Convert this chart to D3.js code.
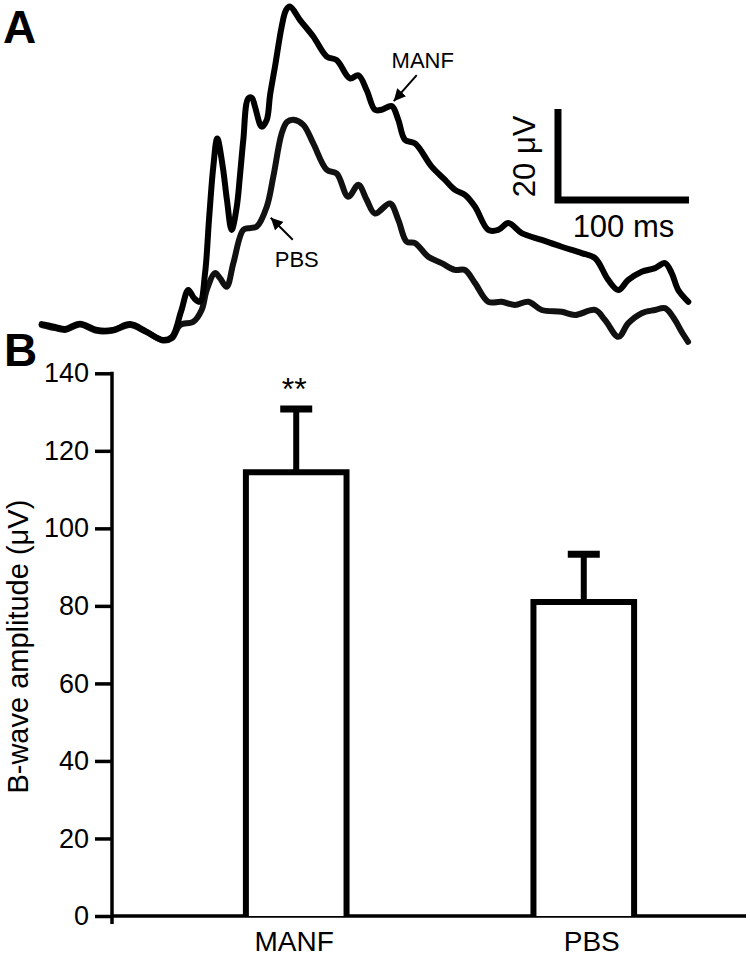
<!DOCTYPE html>
<html>
<head>
<meta charset="utf-8">
<script src="https://cdn.jsdelivr.net/npm/d3@7"></script>
<style>
  html, body { margin: 0; padding: 0; background: #fff; }
  svg { display: block; font-family: "Liberation Sans", Arial, Helvetica, sans-serif; }
</style>
</head>
<body>
<script>
// ---------- Panel A: ERG traces (time in ms, amplitude in µV) ----------
const manfTime = [1.3, 11.5, 19.1, 30.5, 43.5, 55.7, 68.7, 80.9, 93.9, 100.8, 107.6, 113.2, 117.6, 122.1, 126.0, 129.0, 132.3, 135.3, 139.5, 142.7, 146.3, 150.2, 152.7, 155.2, 159.0, 161.8, 164.1, 169.2, 173.1, 175.6, 179.4, 184.5, 187.8, 190.8, 198.5, 208.6, 218.9, 226.5, 236.6, 243.0, 249.4, 255.7, 260.8, 268.5, 273.5, 278.6, 286.3, 299.0, 309.2, 316.8, 324.4, 332.1, 342.2, 349.8, 357.5, 367.7, 383.0, 398.2, 413.5, 423.7, 433.8, 441.5, 449.1, 459.3, 469.5, 477.1, 482.2, 487.2, 494.9];
const manfAmp = [0.2, -0.4, -0.9, 0.3, -1.1, -1.1, 0.2, -1.4, -3.3, -2.6, 2.9, 7.7, 5.9, 5.1, 11.4, 23.1, 34.8, 41.0, 34.8, 27.5, 20.9, 26.0, 33.0, 40.7, 49.8, 49.9, 48.0, 43.6, 45.1, 50.5, 56.8, 65.6, 69.2, 70.0, 67.0, 63.4, 59.0, 58.2, 54.2, 54.9, 51.6, 47.3, 47.3, 48.1, 45.1, 40.7, 39.9, 34.8, 31.9, 29.7, 28.6, 26.0, 20.9, 20.9, 22.4, 20.2, 18.7, 17.2, 15.8, 14.7, 9.9, 7.7, 9.9, 11.7, 12.5, 13.6, 11.4, 7.7, 5.1];
const pbsTime = [1.3, 11.5, 19.1, 30.5, 43.5, 55.7, 68.7, 80.9, 93.9, 100.8, 106.9, 117.0, 123.4, 127.3, 133.6, 137.4, 142.5, 147.6, 155.2, 160.3, 165.4, 173.1, 178.1, 184.5, 188.5, 193.4, 201.0, 208.6, 218.9, 226.5, 235.3, 243.0, 249.4, 255.7, 267.2, 273.5, 279.9, 286.3, 296.4, 306.6, 316.8, 324.4, 332.1, 342.2, 352.4, 362.6, 372.8, 383.0, 398.2, 408.4, 423.7, 431.3, 441.5, 449.1, 459.3, 469.5, 477.1, 484.7, 489.8, 494.7];
const pbsAmp = [0.0, -0.7, -1.1, 0.1, -1.3, -1.2, 0.0, -1.5, -3.4, -2.9, 0.0, 0.7, 3.3, 7.7, 11.4, 10.3, 8.4, 13.6, 20.9, 21.3, 21.6, 26.0, 32.6, 42.1, 44.6, 45.1, 44.0, 39.9, 34.1, 33.3, 28.2, 30.8, 27.5, 24.5, 26.7, 23.1, 18.3, 18.0, 15.0, 13.6, 12.1, 12.1, 9.2, 5.1, 5.1, 4.4, 5.1, 3.3, 2.9, 2.2, 3.3, 1.1, -2.6, 0.4, 2.6, 3.3, 3.7, 1.1, -1.5, -3.7];
const scaleBarMs = 100;
const scaleBarUV = 20;

// ---------- Panel B: bar chart ----------
const categories = ["MANF", "PBS"];
const means = [114.5, 81];
const sems = [16.3, 12.3];
const yTicks = [0, 20, 40, 60, 80, 100, 120, 140];
const significance = ["**", ""];

const W = 750, H = 957;
const svg = d3.select("body").append("svg").attr("width", W).attr("height", H);

// Panel letters
svg.append("text").attr("x", 3).attr("y", 43).attr("font-size", 46).attr("font-weight", "bold").text("A");
svg.append("text").attr("x", 4).attr("y", 366).attr("font-size", 46).attr("font-weight", "bold").text("B");

// ---- Panel A ----
const xA = d3.scaleLinear().domain([0, 500]).range([40, 695]);
const yA = d3.scaleLinear().domain([0, 70]).range([325, 6.5]);
const line = d3.line().x(d => xA(d[0])).y(d => yA(d[1])).curve(d3.curveCatmullRom.alpha(0.5));

const traces = [
  { name: "PBS", pts: d3.zip(pbsTime, pbsAmp), color: "#111" },
  { name: "MANF", pts: d3.zip(manfTime, manfAmp), color: "#000" }
];
svg.append("g").selectAll("path").data(traces).join("path")
  .attr("d", d => line(d.pts))
  .attr("fill", "none").attr("stroke", d => d.color)
  .attr("stroke-width", 6).attr("stroke-linejoin", "round").attr("stroke-linecap", "round");

// arrow marker
const defs = svg.append("defs");
defs.append("marker").attr("id", "ah").attr("viewBox", "0 0 10 10").attr("refX", 10).attr("refY", 5)
  .attr("markerWidth", 6).attr("markerHeight", 6).attr("markerUnits", "strokeWidth").attr("orient", "auto")
  .append("path").attr("d", "M0,0 L10,5 L0,10 Z").attr("fill", "#000");

// MANF annotation (points at trace sample near 268.5 ms)
const mTip = [xA(268.5), yA(48.1)];
svg.append("line").attr("x1", mTip[0] + 25).attr("y1", mTip[1] - 31).attr("x2", mTip[0] + 2).attr("y2", mTip[1] - 5)
  .attr("stroke", "#000").attr("stroke-width", 2).attr("marker-end", "url(#ah)");
svg.append("text").attr("x", mTip[0] + 31).attr("y", mTip[1] - 38).attr("text-anchor", "middle")
  .attr("font-size", 22).text("MANF");

// PBS annotation (points at trace sample near 173 ms)
const pTip = [xA(173.1), yA(26.0)];
svg.append("line").attr("x1", pTip[0] + 26).attr("y1", pTip[1] + 33).attr("x2", pTip[0] + 4).attr("y2", pTip[1] + 11)
  .attr("stroke", "#000").attr("stroke-width", 2).attr("marker-end", "url(#ah)");
svg.append("text").attr("x", pTip[0] + 30).attr("y", pTip[1] + 60).attr("text-anchor", "middle")
  .attr("font-size", 22).text("PBS");

// Scale bar
const sbT = 395.4, sbV = 27.5;
svg.append("path")
  .attr("d", `M${xA(sbT)},${yA(sbV + scaleBarUV)} V${yA(sbV)} H${xA(sbT + scaleBarMs)}`)
  .attr("fill", "none").attr("stroke", "#000").attr("stroke-width", 7).attr("stroke-linejoin", "miter");
svg.append("text")
  .attr("transform", `translate(${xA(sbT) - 23},${(yA(sbV) + yA(sbV + scaleBarUV)) / 2 + 2}) rotate(-90)`)
  .attr("text-anchor", "middle").attr("font-size", 31).text("20 μV");
svg.append("text").attr("x", (xA(sbT) + xA(sbT + scaleBarMs)) / 2).attr("y", yA(sbV) + 37)
  .attr("text-anchor", "middle").attr("font-size", 31).text(scaleBarMs + " ms");

// ---- Panel B ----
const yB = d3.scaleLinear().domain([0, 140]).range([916, 373.3]);
const xB = d3.scaleBand().domain(categories).range([151, 729]).paddingInner(0.65).paddingOuter(0.33);

const yAxis = d3.axisLeft(yB).tickValues(yTicks).tickSize(17).tickPadding(6).tickSizeOuter(0);
const gy = svg.append("g").attr("transform", "translate(112,0)").call(yAxis);
gy.select(".domain").remove();
gy.selectAll(".tick line").attr("stroke", "#000").attr("stroke-width", 3.5);
gy.selectAll(".tick text").attr("font-size", 27).attr("fill", "#000")
  .attr("font-family", "'Liberation Sans', Arial, sans-serif");
// y axis line (extends slightly below zero)
svg.append("line").attr("x1", 112).attr("x2", 112).attr("y1", yB(140) - 1.5).attr("y2", yB(0) + 8)
  .attr("stroke", "#000").attr("stroke-width", 3.5);
// x axis line
svg.append("line").attr("x1", 112).attr("x2", 746).attr("y1", yB(0)).attr("y2", yB(0))
  .attr("stroke", "#000").attr("stroke-width", 3.5);

// y axis title
svg.append("text").attr("transform", `translate(28,${(yB(0) + yB(140)) / 2 + 2}) rotate(-90)`)
  .attr("text-anchor", "middle").attr("font-size", 29).text("B-wave amplitude (μV)");

const bars = categories.map((c, i) => ({ c, m: means[i], s: sems[i], sig: significance[i] }));
const gb = svg.append("g");
gb.selectAll("rect").data(bars).join("rect")
  .attr("x", d => xB(d.c)).attr("y", d => yB(d.m))
  .attr("width", xB.bandwidth()).attr("height", d => yB(0) - yB(d.m))
  .attr("fill", "#fff");
gb.selectAll("path.bar").data(bars).join("path").attr("class", "bar")
  .attr("d", d => `M${xB(d.c)},${yB(0)} V${yB(d.m)} H${xB(d.c) + xB.bandwidth()} V${yB(0)}`)
  .attr("fill", "none").attr("stroke", "#000").attr("stroke-width", 6).attr("stroke-linejoin", "miter");
// error bars
gb.selectAll("line.err").data(bars).join("line").attr("class", "err")
  .attr("x1", d => xB(d.c) + xB.bandwidth() / 2).attr("x2", d => xB(d.c) + xB.bandwidth() / 2)
  .attr("y1", d => yB(d.m)).attr("y2", d => yB(d.m + d.s))
  .attr("stroke", "#000").attr("stroke-width", 6);
gb.selectAll("line.cap").data(bars).join("line").attr("class", "cap")
  .attr("x1", d => xB(d.c) + xB.bandwidth() / 2 - 16).attr("x2", d => xB(d.c) + xB.bandwidth() / 2 + 16)
  .attr("y1", d => yB(d.m + d.s)).attr("y2", d => yB(d.m + d.s))
  .attr("stroke", "#000").attr("stroke-width", 7);
gb.selectAll("text.sig").data(bars).join("text").attr("class", "sig")
  .attr("x", d => xB(d.c) + xB.bandwidth() / 2 - 2).attr("y", d => yB(d.m + d.s) - 9)
  .attr("text-anchor", "middle").attr("font-size", 32).text(d => d.sig);
// category labels
gb.selectAll("text.cat").data(bars).join("text").attr("class", "cat")
  .attr("x", d => xB(d.c) + xB.bandwidth() / 2 + (d.c === "PBS" ? 8 : -2)).attr("y", 951)
  .attr("text-anchor", "middle").attr("font-size", 28).text(d => d.c);
</script>
</body>
</html>
